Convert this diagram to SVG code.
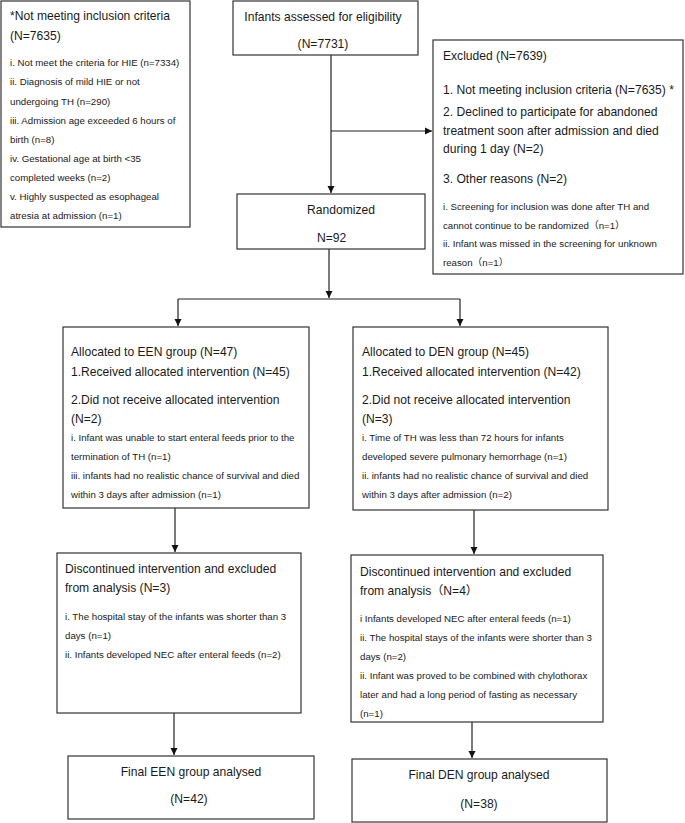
<svg xmlns="http://www.w3.org/2000/svg" width="685" height="823" viewBox="0 0 685 823">
<defs>
<style>
.box{fill:#fff;stroke:#333;stroke-width:1.2}
text{font-family:"Liberation Sans",Arial,"Noto Sans CJK SC",sans-serif;fill:#1a1a1a}
.l{font-size:12.1px}
.s{font-size:9.7px}
.c{text-anchor:middle}
.edge{stroke:#222;stroke-width:1.2;fill:none}
</style>
<marker id="ah" markerWidth="8" markerHeight="8" refX="7" refY="4" orient="auto" markerUnits="userSpaceOnUse">
<path d="M0,0.5 L7,4 L0,7.5 Z" fill="#111"/>
</marker>
</defs>
<rect width="685" height="823" fill="#fff"/>

<g id="connectors">
<line class="edge" x1="331" y1="55" x2="331" y2="193" marker-end="url(#ah)"/>
<line class="edge" x1="331" y1="131" x2="432" y2="131" marker-end="url(#ah)"/>
<line class="edge" x1="329" y1="249" x2="329" y2="298" marker-end="url(#ah)"/>
<line class="edge" x1="178" y1="299" x2="460" y2="299"/>
<line class="edge" x1="178" y1="299" x2="178" y2="326" marker-end="url(#ah)"/>
<line class="edge" x1="460" y1="299" x2="460" y2="326" marker-end="url(#ah)"/>
<line class="edge" x1="175" y1="508" x2="175" y2="552" marker-end="url(#ah)"/>
<line class="edge" x1="474" y1="510" x2="474" y2="554" marker-end="url(#ah)"/>
<line class="edge" x1="174" y1="713" x2="174" y2="755" marker-end="url(#ah)"/>
<line class="edge" x1="472" y1="722" x2="472" y2="758" marker-end="url(#ah)"/>
</g>

<g id="not-meeting">
<rect class="box" x="1" y="1" width="189" height="226"/>
<text class="l" x="10" y="20">*Not meeting inclusion criteria</text>
<text class="l" x="10" y="40">(N=7635)</text>
<text class="s" x="10" y="66">i. Not meet the criteria for HIE (n=7334)</text>
<text class="s" x="10" y="85">ii. Diagnosis of mild HIE or not</text>
<text class="s" x="10" y="105">undergoing TH (n=290)</text>
<text class="s" x="10" y="124">iii. Admission age exceeded 6 hours of</text>
<text class="s" x="10" y="143">birth (n=8)</text>
<text class="s" x="10" y="162">iv. Gestational age at birth &lt;35</text>
<text class="s" x="10" y="181">completed weeks (n=2)</text>
<text class="s" x="10" y="200">v. Highly suspected as esophageal</text>
<text class="s" x="10" y="219">atresia at admission (n=1)</text>
</g>

<g id="assessed">
<rect class="box" x="233" y="1" width="185" height="54"/>
<text class="l c" x="323" y="21">Infants assessed for eligibility</text>
<text class="l c" x="323" y="48">(N=7731)</text>
</g>

<g id="excluded">
<rect class="box" x="433" y="40" width="250" height="234"/>
<text class="l" x="443" y="60">Excluded (N=7639)</text>
<text class="l" x="443" y="94">1. Not meeting inclusion criteria (N=7635) *</text>
<text class="l" x="443" y="116">2. Declined to participate for abandoned</text>
<text class="l" x="443" y="135">treatment soon after admission and died</text>
<text class="l" x="443" y="153">during 1 day (N=2)</text>
<text class="l" x="443" y="183">3. Other reasons (N=2)</text>
<text class="s" x="443" y="210">i. Screening for inclusion was done after TH and</text>
<text class="s" x="443" y="229">cannot continue to be randomized（n=1）</text>
<text class="s" x="443" y="247">ii. Infant was missed in the screening for unknown</text>
<text class="s" x="443" y="266">reason（n=1）</text>
</g>

<g id="randomized">
<rect class="box" x="237" y="194" width="188" height="55"/>
<text class="l" x="307" y="214">Randomized</text>
<text class="l" x="317" y="242">N=92</text>
</g>

<g id="een-alloc">
<rect class="box" x="63" y="327" width="246" height="181"/>
<text class="l" x="71" y="356">Allocated to EEN group (N=47)</text>
<text class="l" x="71" y="376">1.Received allocated intervention (N=45)</text>
<text class="l" x="71" y="404">2.Did not receive allocated intervention</text>
<text class="l" x="71" y="423">(N=2)</text>
<text class="s" x="71" y="441">i. Infant was unable to start enteral feeds prior to the</text>
<text class="s" x="71" y="460">termination of TH (n=1)</text>
<text class="s" x="71" y="479">iii. infants had no realistic chance of survival and died</text>
<text class="s" x="71" y="498">within 3 days after admission (n=1)</text>
</g>

<g id="den-alloc">
<rect class="box" x="353" y="327" width="255" height="183"/>
<text class="l" x="362" y="356">Allocated to DEN group (N=45)</text>
<text class="l" x="362" y="376">1.Received allocated intervention (N=42)</text>
<text class="l" x="362" y="404">2.Did not receive allocated intervention</text>
<text class="l" x="362" y="423">(N=3)</text>
<text class="s" x="362" y="441">i. Time of TH was less than 72 hours for infants</text>
<text class="s" x="362" y="460">developed severe pulmonary hemorrhage (n=1)</text>
<text class="s" x="362" y="479">ii. infants had no realistic chance of survival and died</text>
<text class="s" x="362" y="498">within 3 days after admission (n=2)</text>
</g>

<g id="een-disc">
<rect class="box" x="57" y="553" width="244" height="160"/>
<text class="l" x="65" y="573">Discontinued intervention and excluded</text>
<text class="l" x="65" y="592">from analysis (N=3)</text>
<text class="s" x="65" y="620">i. The hospital stay of the infants was shorter than 3</text>
<text class="s" x="65" y="639">days (n=1)</text>
<text class="s" x="65" y="658">ii.  Infants developed NEC after enteral feeds (n=2)</text>
</g>

<g id="den-disc">
<rect class="box" x="351" y="555" width="252" height="167"/>
<text class="l" x="360" y="576">Discontinued intervention and excluded</text>
<text class="l" x="360" y="595">from analysis（N=4）</text>
<text class="s" x="360" y="622">i Infants developed NEC after enteral feeds (n=1)</text>
<text class="s" x="360" y="641">ii. The hospital stays of the infants were shorter than 3</text>
<text class="s" x="360" y="660">days (n=2)</text>
<text class="s" x="360" y="679">ii. Infant was proved to be combined with chylothorax</text>
<text class="s" x="360" y="698">later and had a long period of fasting as necessary</text>
<text class="s" x="360" y="717">(n=1)</text>
</g>

<g id="een-final">
<rect class="box" x="68" y="756" width="246" height="63"/>
<text class="l c" x="191" y="776">Final EEN group analysed</text>
<text class="l c" x="189" y="803">(N=42)</text>
</g>

<g id="den-final">
<rect class="box" x="352" y="759" width="255" height="63"/>
<text class="l c" x="479" y="779">Final DEN group analysed</text>
<text class="l c" x="479" y="808">(N=38)</text>
</g>
</svg>
